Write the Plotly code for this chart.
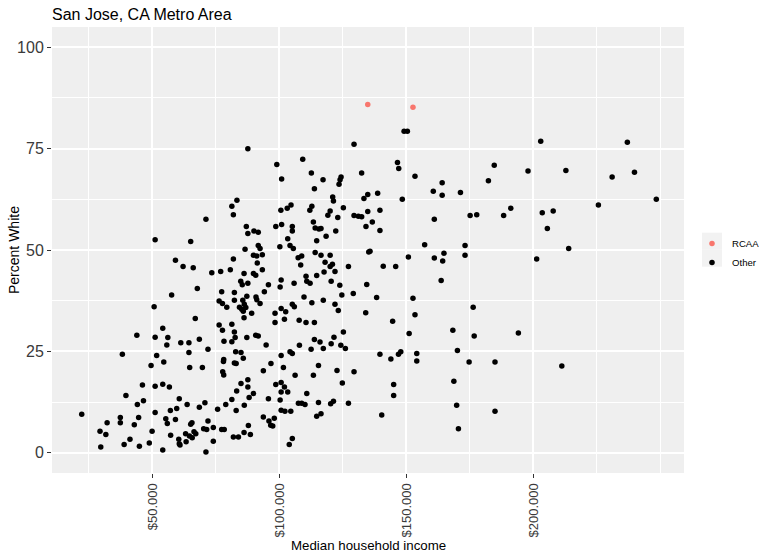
import plotly.graph_objects as go

# ---- data (income in thousands of dollars, percent white) ----
rcaa_income_k = [134.8, 152.6]
rcaa_pct_white = [85.9, 85.2]

other_income_k = [
    51.1, 65.1, 71.1, 59.1, 62.1, 66.1, 67.7, 57.6,
    50.7, 66.9, 54.1, 43.9, 51.1, 56.1, 68.5, 61.2, 64.4, 55.7, 71.9, 64.4, 38.2, 51.7, 54.5, 49.5,
    64.7, 69.7, 46.1, 51.1, 54.1, 56.7, 39.6, 60.6, 46.5, 44.1, 63.7, 70.7, 68.5, 59.6, 57.1, 51.1,
    22.2, 44.6, 37.4, 37.4, 55.3, 59.1, 71.9, 32.2, 55.9, 65.6, 65.1, 42.9, 29.4, 31.7, 49.9, 70.2,
    71.4, 63.1, 66.4, 67.1, 57.2, 64.6, 65.7, 60.4, 41.2, 60.6, 63.3, 60.9, 38.9, 48.8, 29.7, 44.9,
    54.1, 71.1,
    87.6, 99.0, 109.2, 100.9, 112.6, 117.2, 113.8, 124.3, 123.9, 123.5, 129.4, 121.0, 121.3, 83.3,
    81.3, 81.9, 100.6, 103.1, 104.6, 112.8, 112.0, 120.0, 119.1, 125.2, 129.4, 123.0, 113.4, 114.1,
    115.6, 116.4, 122.2, 118.4, 114.7, 87.0, 87.6, 90.0, 91.7, 98.6, 100.9, 105.1, 105.1, 103.3,
    100.2, 104.2, 105.5, 86.5, 91.7, 92.4, 93.3, 89.8, 91.1, 91.3, 93.3, 81.9, 73.4, 76.9, 80.7,
    86.1, 89.8, 90.7, 107.4, 108.8, 108.4, 114.1, 116.4, 120.0, 118.0, 120.9, 120.0, 127.2, 117.6,
    121.9, 114.7, 110.5, 110.8, 112.1, 100.7, 100.3, 105.8, 120.4, 123.8, 84.8, 85.4, 87.6, 95.7,
    94.1, 77.3, 82.3, 87.2, 90.8, 109.7, 124.6, 129.1,
    76.3, 77.6, 79.3, 82.3, 84.3, 85.2, 85.6, 86.2, 86.8, 85.8, 91.1, 92.4, 89.1, 86.1, 98.3, 100.7,
    102.5, 105.1, 105.9, 102.0, 98.3, 112.8, 117.3, 121.9, 123.2, 107.8, 110.5, 113.8, 76.3, 77.6,
    81.3, 82.3, 82.6, 81.3, 78.2, 87.2, 90.7, 91.7, 94.8, 82.8, 84.9, 85.8, 78.1, 78.0, 82.3, 83.0,
    100.7, 104.2, 105.1, 107.9, 113.8, 116.0, 112.5, 117.3, 120.4, 121.5, 124.2, 125.2, 126.0, 96.7,
    101.6, 93.7, 77.7, 78.1, 115.4, 113.4, 106.2, 122.7, 129.4, 124.8, 84.9, 87.6, 87.6, 83.2, 89.8,
    88.1, 81.3, 78.9, 86.2, 83.0, 75.7, 98.6, 100.7, 102.0, 100.7, 103.3, 95.7, 100.3, 110.8, 107.5,
    108.8, 110.1, 115.4, 120.2, 121.3, 127.2, 100.7, 102.2, 104.5, 116.4, 114.7, 93.7, 95.9, 96.6,
    97.4, 98.0, 74.0, 77.3, 78.3, 87.8, 86.1, 88.6, 81.9, 83.9, 74.0, 105.1, 103.9,
    132.4, 138.7, 133.3, 134.8, 134.8, 139.6, 134.1, 139.6, 136.6, 131.1, 132.4, 135.2, 135.7,
    134.4, 138.3, 134.0,
    149.1, 150.4, 202.9, 237.0, 146.5, 147.0, 184.6, 182.3, 197.9, 212.8, 231.0, 239.8, 153.4, 164.1,
    160.6, 164.1, 171.3, 148.4, 248.4, 225.6, 161.0, 175.1, 177.7, 188.3, 191.1, 203.5, 207.8, 205.5,
    157.2, 173.1, 213.9, 150.8, 161.0, 164.8, 164.3, 173.1, 201.3, 140.9, 145.8,
    163.7, 152.6, 153.4, 176.3, 144.6, 151.1, 168.3, 176.7, 194.1, 170.1, 139.6, 143.9, 146.9, 147.8,
    154.1, 154.1, 174.7, 184.9, 211.2, 168.7, 145.0, 145.0, 140.3, 169.8, 184.9, 170.5,
]

other_pct_white = [
    52.5, 52.1, 57.6, 47.5, 45.9, 45.6, 40.5, 38.9,
    36.0, 33.1, 30.7, 29.0, 28.5, 28.4, 28.0, 27.1, 27.1, 26.6, 25.5, 24.7, 24.3, 24.0, 22.4, 21.5,
    21.0, 21.0, 16.7, 16.4, 16.9, 16.2, 14.1, 13.3, 12.8, 11.9, 11.9, 12.3, 11.2, 10.9, 10.4, 9.9,
    9.5, 8.7, 8.7, 7.4, 8.4, 8.2, 7.8, 7.4, 7.2, 7.4, 7.0, 6.9, 5.3, 4.5, 5.3, 5.9,
    5.7, 4.7, 5.2, 4.7, 4.3, 4.1, 3.7, 3.3, 3.3, 2.2, 2.7, 1.9, 2.0, 2.4, 1.4, 1.6,
    0.7, 0.2,
    75.0, 71.1, 72.4, 67.5, 69.0, 67.3, 65.1, 68.0, 67.3, 66.2, 76.1, 63.1, 62.1, 62.3,
    60.8, 58.7, 59.8, 60.3, 61.1, 60.8, 59.8, 59.6, 58.6, 60.4, 58.5, 58.0, 56.9, 55.4,
    55.2, 55.3, 54.7, 53.4, 52.3, 55.8, 54.1, 54.7, 54.4, 55.8, 56.3, 55.8, 54.7, 52.8,
    50.8, 51.1, 50.4, 50.2, 51.1, 50.4, 48.8, 48.7, 48.5, 46.8, 45.1, 47.8, 44.4, 44.7, 45.1,
    44.2, 44.2, 43.8, 48.1, 48.5, 46.3, 49.4, 48.7, 48.7, 47.0, 46.5, 45.9, 45.9, 44.6,
    44.7, 43.7, 43.5, 42.3, 41.8, 42.6, 40.9, 41.8, 42.3, 41.3, 42.3, 41.4, 41.8, 41.4,
    39.7, 39.7, 39.5, 38.6, 38.4, 38.4, 38.9, 39.3,
    37.4, 36.8, 35.9, 37.6, 35.9, 35.4, 37.6, 36.6, 35.8, 34.9, 37.7, 36.8, 34.4, 33.3, 34.4, 35.6,
    34.8, 36.6, 36.0, 32.9, 32.1, 37.0, 37.6, 36.6, 35.1, 32.7, 32.1, 32.1, 31.5, 30.2,
    31.7, 29.8, 28.4, 27.4, 27.5, 28.4, 29.0, 28.8, 26.6, 24.9, 24.7, 23.3, 23.0, 22.5, 22.1, 22.0,
    24.0, 24.9, 24.5, 26.5, 27.9, 27.3, 25.5, 25.7, 26.9, 28.5, 26.5, 29.8, 25.7, 22.0,
    21.0, 20.2, 20.0, 19.2, 21.5, 19.1, 19.1, 20.3, 20.0, 17.2, 17.1, 18.0, 16.2, 15.2, 14.6,
    13.6, 13.1, 11.9, 11.7, 10.4, 10.7, 16.8, 17.3, 16.2, 15.0, 15.0, 13.3, 13.0, 14.6, 12.2,
    12.2, 11.9, 12.4, 12.1, 12.7, 12.2, 10.5, 10.2, 10.2, 9.6, 9.0, 8.8, 7.8, 6.8,
    6.6, 8.5, 6.2, 5.7, 5.7, 6.7, 5.0, 4.5, 3.9, 3.9, 2.8, 3.5, 2.0,
    69.0, 64.0, 62.7, 63.7, 59.5, 59.8, 55.8, 54.8, 56.9, 58.3, 58.2, 49.5, 49.7,
    41.5, 38.3, 34.5,
    79.3, 79.3, 76.8, 76.6, 71.6, 70.1, 70.9, 67.1, 69.5, 69.6, 68.0, 69.2, 68.2, 66.6,
    64.5, 63.5, 64.2, 62.5, 62.5, 61.1, 57.6, 58.5, 58.7, 58.5, 60.3, 59.2, 59.6, 55.3,
    51.3, 51.1, 50.4, 48.3, 48.0, 49.2, 47.3, 48.7, 47.8, 46.0, 45.9,
    42.5, 38.1, 34.0, 35.9, 32.4, 29.4, 30.2, 28.8, 29.5, 25.2, 24.3, 23.1, 24.3, 24.9,
    24.5, 22.6, 22.4, 22.4, 21.4, 17.6, 16.8, 14.1, 9.3, 11.7, 10.2, 5.9,
]

x_tick_values = [50, 100, 150, 200]
x_tick_labels = ["$50.000", "$100.000", "$150.000", "$200.000"]
x_minor_values = [25, 75, 125, 175, 225, 250]
y_tick_values = [0, 25, 50, 75, 100]
y_minor_values = [12.5, 37.5, 62.5, 87.5]

assert len(other_income_k) == len(other_pct_white)

FONT = "Liberation Sans, Arial, Helvetica, sans-serif"
PANEL_BG = "#EFEFEF"

fig = go.Figure()
fig.add_trace(go.Scatter(
    x=rcaa_income_k, y=rcaa_pct_white, mode="markers", name="RCAA",
    marker=dict(color="#F8766D", size=5.5, line=dict(width=0)),
    hoverinfo="skip",
))
fig.add_trace(go.Scatter(
    x=other_income_k, y=other_pct_white, mode="markers", name="Other",
    marker=dict(color="#000000", size=5.5, line=dict(width=0)),
    hoverinfo="skip",
))

axis_common = dict(
    showline=False, zeroline=False, ticks="outside", ticklen=4, tickwidth=1.1,
    tickcolor="#333333", showgrid=True, gridcolor="white", gridwidth=1.6,
    tickfont=dict(family=FONT, color="#3A3A3A"),
)

LEG_LEFT = 692  # px

fig.update_layout(
    width=759, height=554,
    margin=dict(l=52, r=75, t=27, b=81, autoexpand=False),
    paper_bgcolor="white", plot_bgcolor=PANEL_BG,
    font=dict(family=FONT, color="black"),
    title=dict(text="San Jose, CA Metro Area", xref="paper", x=0, xanchor="left",
               yref="container", y=1 - 14.5 / 554, yanchor="middle",
               font=dict(size=16, color="black", family=FONT)),
    xaxis=dict(**axis_common, range=[10.5, 259.3], tickmode="array",
               tickvals=x_tick_values, ticktext=x_tick_labels, tickangle=-90,
               minor=dict(tickmode="array", tickvals=x_minor_values, showgrid=True,
                          gridcolor="white", gridwidth=0.8, ticks="")),
    yaxis=dict(**axis_common, range=[-5, 105], tickmode="array",
               tickvals=y_tick_values,
               minor=dict(tickmode="array", tickvals=y_minor_values, showgrid=True,
                          gridcolor="white", gridwidth=0.8, ticks="")),
    showlegend=True,
    legend=dict(x=(LEG_LEFT - 52) / 632, xanchor="left", y=0.493, yanchor="middle",
                bgcolor="rgba(0,0,0,0)", font=dict(size=9.6, family=FONT, color="black"),
                itemwidth=30, tracegroupgap=0),
    annotations=[
        dict(text="Percent White", xref="paper", yref="paper", x=(14 - 52) / 632, y=0.5,
             xanchor="center", yanchor="middle", textangle=-90, showarrow=False,
             font=dict(size=14, family=FONT, color="black")),
        dict(text="Median household income", xref="paper", yref="paper", x=0.5,
             y=(473 - 545) / 446, xanchor="center", yanchor="middle", showarrow=False,
             font=dict(size=13.3, family=FONT, color="black")),
    ],
)
fig.update_xaxes(tickfont_size=13)
fig.update_yaxes(tickfont_size=16)

# legend key background boxes (ggplot style)
for top, bot in [(232.7, 249.7), (249.7, 266.7)]:
    fig.add_shape(type="rect", xref="paper", yref="paper",
                  x0=(LEG_LEFT + 10 - 52) / 632, x1=(LEG_LEFT + 30 - 52) / 632,
                  y0=(473 - bot) / 446, y1=(473 - top) / 446,
                  fillcolor="#F2F2F2", line=dict(width=0), layer="below")

fig.write_html("out.html", config={"displayModeBar": False},
               post_script="document.body.style.margin='0';document.body.style.overflow='hidden';")
